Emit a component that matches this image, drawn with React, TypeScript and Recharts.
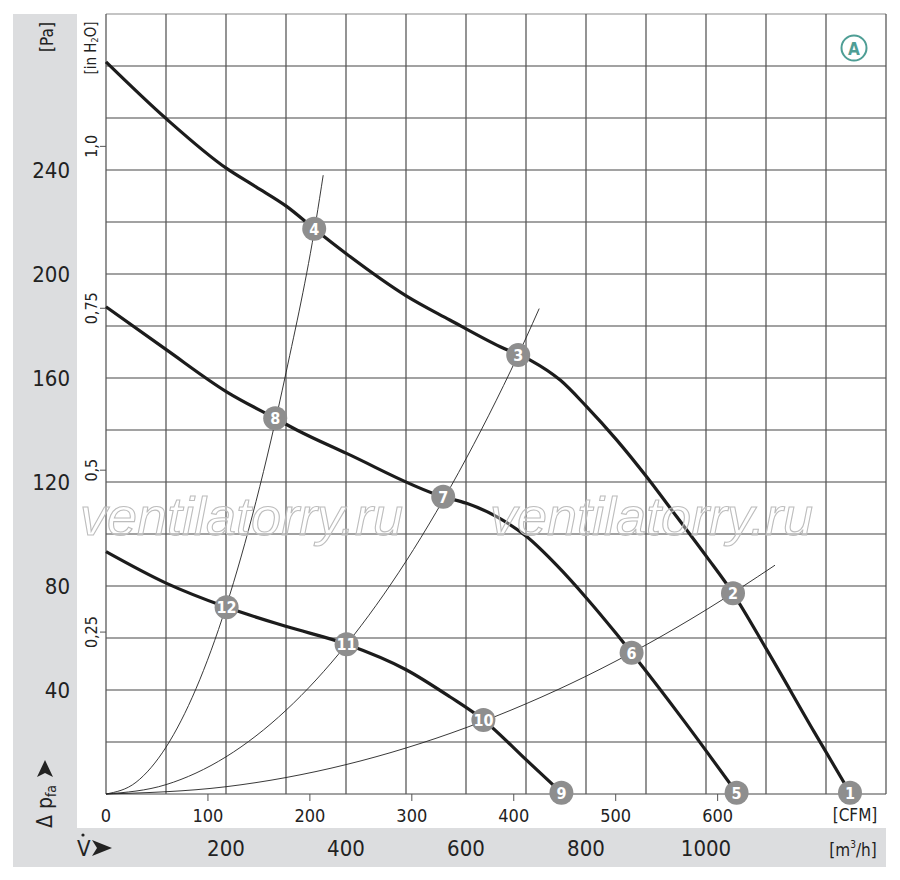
import React from "react";
import { ComposedChart, XAxis, YAxis, Line, Scatter, ReferenceLine, ReferenceDot } from "recharts";

// Flow in m³/h, pressure in Pa
const fanCurveHigh = [
  { q: 0, p: 281.6 }, { q: 101, p: 259.6 }, { q: 201, p: 240.6 }, { q: 250, p: 233.5 },
  { q: 301, p: 226 }, { q: 347, p: 217.4 }, { q: 401, p: 207.7 }, { q: 501, p: 191.5 },
  { q: 573, p: 182.3 }, { q: 657, p: 172 }, { q: 707, p: 166.9 }, { q: 757, p: 159.2 },
  { q: 801, p: 149 }, { q: 851, p: 136.2 }, { q: 901, p: 122 }, { q: 951, p: 106.7 },
  { q: 1001, p: 91.3 }, { q: 1045, p: 77.2 }, { q: 1100, p: 56 }, { q: 1180, p: 24 },
  { q: 1240, p: 0.5 },
];
const fanCurveMid = [
  { q: 0, p: 187.4 }, { q: 101, p: 170.8 }, { q: 201, p: 154.7 }, { q: 282, p: 144.5 },
  { q: 318, p: 140 }, { q: 401, p: 131 }, { q: 562, p: 114.3 }, { q: 601, p: 111.8 },
  { q: 651, p: 106.7 }, { q: 701, p: 99 }, { q: 751, p: 88 }, { q: 801, p: 75.3 },
  { q: 851, p: 61.5 }, { q: 876, p: 54.3 }, { q: 962, p: 28.5 }, { q: 1051, p: 0.5 },
];
const fanCurveLow = [
  { q: 0, p: 93.2 }, { q: 101, p: 81 }, { q: 201, p: 71.8 }, { q: 301, p: 64.4 },
  { q: 401, p: 57.6 }, { q: 501, p: 47.7 }, { q: 573, p: 37.4 }, { q: 629, p: 28.5 },
  { q: 701, p: 13 }, { q: 759, p: 0.5 },
];
const systemCurveSteep = [
  { q: 0, p: 0 }, { q: 50, p: 4.5 }, { q: 100, p: 18 }, { q: 150, p: 40.5 },
  { q: 200, p: 72 }, { q: 250, p: 112.5 }, { q: 300, p: 162 }, { q: 350, p: 220.5 },
  { q: 362, p: 238 },
];
const systemCurveMid = [
  { q: 0, p: 0 }, { q: 100, p: 3.6 }, { q: 200, p: 14.3 }, { q: 300, p: 32.2 },
  { q: 400, p: 57.3 }, { q: 500, p: 89.5 }, { q: 600, p: 128.9 }, { q: 700, p: 175.4 },
  { q: 722, p: 186.7 },
];
const systemCurveFlat = [
  { q: 0, p: 0 }, { q: 200, p: 2.8 }, { q: 400, p: 11.3 }, { q: 600, p: 25.5 },
  { q: 800, p: 45.3 }, { q: 1000, p: 70.8 }, { q: 1115, p: 88 },
];
const operatingPoints = [
  { q: 1240, p: 0.5, n: 1 }, { q: 1045, p: 77.2, n: 2 }, { q: 687, p: 168.8, n: 3 },
  { q: 347, p: 217.4, n: 4 }, { q: 1051, p: 0.5, n: 5 }, { q: 876, p: 54.3, n: 6 },
  { q: 562, p: 114.3, n: 7 }, { q: 282, p: 144.5, n: 8 }, { q: 759, p: 0.5, n: 9 },
  { q: 629, p: 28.5, n: 10 }, { q: 401, p: 57.6, n: 11 }, { q: 201, p: 71.8, n: 12 },
];

const paTicks = [40, 80, 120, 160, 200, 240];
const inH2OTicks = [0.25, 0.5, 0.75, 1.0];
const inH2OLabels = ["0,25", "0,5", "0,75", "1,0"];
const cfmTicks = [0, 100, 200, 300, 400, 500, 600];
const m3hLabels = [200, 400, 600, 800, 1000];
const gridFlow = [0, 100, 200, 300, 400, 500, 600, 700, 800, 900, 1000, 1100, 1200, 1300];
const gridPressure = [0, 20, 40, 60, 80, 100, 120, 140, 160, 180, 200, 220, 240, 260, 280, 300];

const M3H_PER_CFM = 1.699;
const PA_PER_INH2O = 249.09;

const FONT = "'Liberation Sans Narrow','DejaVu Sans Condensed','Roboto Condensed','Arial Narrow',sans-serif";
const TXT = "#222";

const MarkerShape = (props: any) => {
  const { cx, cy, payload } = props;
  return (
    <g>
      <circle cx={cx} cy={cy} r={12} fill="#8e8e8e" />
      <text x={cx} y={cy + 0.5} textAnchor="middle" dominantBaseline="central" fill="#fff"
        fontFamily={FONT} fontWeight="bold" fontSize={16}>{payload.n}</text>
    </g>
  );
};

export default function App() {
  return (
    <div style={{ position: "relative", width: 892, height: 872, fontFamily: FONT }}>
      <svg width={892} height={872} style={{ position: "absolute", left: 0, top: 0 }}>
        <rect x={5} y={6} width={873} height={853} fill="#dcdddf" />
        <rect x={69} y={6} width={809} height={814} fill="#ffffff" />
      </svg>
      <div style={{ position: "absolute", left: 0, top: 0 }}>
        <ComposedChart width={892} height={870} margin={{ top: 6, right: 14, bottom: 84, left: 98 }}>
          <XAxis type="number" dataKey="q" domain={[0, 1300]} hide />
          <YAxis type="number" dataKey="p" domain={[0, 300]} hide />
          {gridPressure.map((v) => (
            <ReferenceLine key={"h" + v} y={v} stroke={v === 300 ? "#c4c4c4" : "#a2a2a2"} strokeWidth={2} />
          ))}
          {gridFlow.map((v) => (
            <ReferenceLine key={"v" + v} x={v} stroke="#5a5a5a" strokeWidth={1.3} />
          ))}
          {paTicks.map((v) => (
            <ReferenceDot key={"pa" + v} x={0} y={v} r={0} ifOverflow="visible"
              shape={(pr: any) => (
                <text x={pr.cx - 36} y={pr.cy} textAnchor="end" dominantBaseline="central"
                  fontFamily={FONT} fontSize={22} fill={TXT}>{v}</text>
              )} />
          ))}
          {inH2OTicks.map((v, i) => (
            <ReferenceDot key={"in" + v} x={0} y={v * PA_PER_INH2O} r={0} ifOverflow="visible"
              shape={(pr: any) => (
                <g>
                  <line x1={pr.cx - 6} x2={pr.cx} y1={pr.cy} y2={pr.cy} stroke="#555" strokeWidth={1} />
                  <text transform={`translate(${pr.cx - 15},${pr.cy}) rotate(-90)`} textAnchor="middle"
                    dominantBaseline="central" fontFamily={FONT} fontSize={16} fill={TXT}>{inH2OLabels[i]}</text>
                </g>
              )} />
          ))}
          {cfmTicks.map((v) => (
            <ReferenceDot key={"cfm" + v} x={v * M3H_PER_CFM} y={0} r={0} ifOverflow="visible"
              shape={(pr: any) => (
                <g>
                  {v > 0 && <line x1={pr.cx} x2={pr.cx} y1={pr.cy} y2={pr.cy + 7} stroke="#555" strokeWidth={1} />}
                  <text x={pr.cx} y={pr.cy + 21} textAnchor="middle" dominantBaseline="central"
                    fontFamily={FONT} fontSize={18} fill={TXT}>{v}</text>
                </g>
              )} />
          ))}
          {m3hLabels.map((v) => (
            <ReferenceDot key={"m3" + v} x={v} y={0} r={0} ifOverflow="visible"
              shape={(pr: any) => (
                <text x={pr.cx} y={pr.cy + 54} textAnchor="middle" dominantBaseline="central"
                  fontFamily={FONT} fontSize={22} fill={TXT}>{v}</text>
              )} />
          ))}
          <Line data={systemCurveSteep} dataKey="p" type="monotone" dot={false} stroke="#222" strokeWidth={0.9} isAnimationActive={false} />
          <Line data={systemCurveMid} dataKey="p" type="monotone" dot={false} stroke="#222" strokeWidth={0.9} isAnimationActive={false} />
          <Line data={systemCurveFlat} dataKey="p" type="monotone" dot={false} stroke="#222" strokeWidth={0.9} isAnimationActive={false} />
          <Line data={fanCurveHigh} dataKey="p" type="monotone" dot={false} stroke="#1c1c1c" strokeWidth={3.2} isAnimationActive={false} />
          <Line data={fanCurveMid} dataKey="p" type="monotone" dot={false} stroke="#1c1c1c" strokeWidth={3.2} isAnimationActive={false} />
          <Line data={fanCurveLow} dataKey="p" type="monotone" dot={false} stroke="#1c1c1c" strokeWidth={3.2} isAnimationActive={false} />
          <Scatter data={operatingPoints} dataKey="p" shape={MarkerShape} isAnimationActive={false} />
        </ComposedChart>
      </div>
      <svg width={892} height={872} style={{ position: "absolute", left: 0, top: 0, pointerEvents: "none" }}>
        <g fontFamily="'Liberation Sans','Arial',sans-serif" fontStyle="italic" fontSize={54}
          fill="#ffffff" fillOpacity={0.35} stroke="#bdbdbd" strokeWidth={1.1}>
          <text x={72} y={527}>ventilatorry.ru</text>
          <text x={482} y={527}>ventilatorry.ru</text>
        </g>
        <text transform="translate(39,29) rotate(-90)" textAnchor="middle" dominantBaseline="central"
          fontFamily={FONT} fontSize={17} fill={TXT}>[Pa]</text>
        <text transform="translate(83,40) rotate(-90)" textAnchor="middle" dominantBaseline="central"
          fontFamily={FONT} fontSize={15} fill={TXT}>[in H<tspan fontSize={9} dy={4}>2</tspan><tspan dy={-4}>O]</tspan></text>
        <g transform="translate(37,820) rotate(-90)">
          <text x={0} y={0} dominantBaseline="central" fontFamily={FONT} fontSize={21} fill={TXT}>
            Δ p<tspan fontSize={14} dy={6}>fa</tspan>
          </text>
          <path d="M 68 0 L 51 -8 L 55 0 L 51 8 Z" fill={TXT} />
        </g>
        <text x={69} y={840} dominantBaseline="central" fontFamily={FONT} fontSize={22} fill={TXT}>V</text>
        <circle cx={75} cy={827} r={1.6} fill={TXT} />
        <path d="M 104 840 L 84 832 L 89 840 L 84 848 Z" fill={TXT} />
        <text x={847} y={807} textAnchor="middle" dominantBaseline="central" fontFamily={FONT} fontSize={17} fill={TXT}>[CFM]</text>
        <text x={845} y={842} textAnchor="middle" dominantBaseline="central" fontFamily={FONT} fontSize={17} fill={TXT}>
          [m<tspan fontSize={10} dy={-6}>3</tspan><tspan dy={6}>/h]</tspan>
        </text>
        <circle cx={846} cy={40} r={12.5} fill="none" stroke="#4e9e95" strokeWidth={2} />
        <text x={846} y={41} textAnchor="middle" dominantBaseline="central" fontFamily={FONT}
          fontWeight="bold" fontSize={17} fill="#4e9e95">A</text>
      </svg>
    </div>
  );
}
